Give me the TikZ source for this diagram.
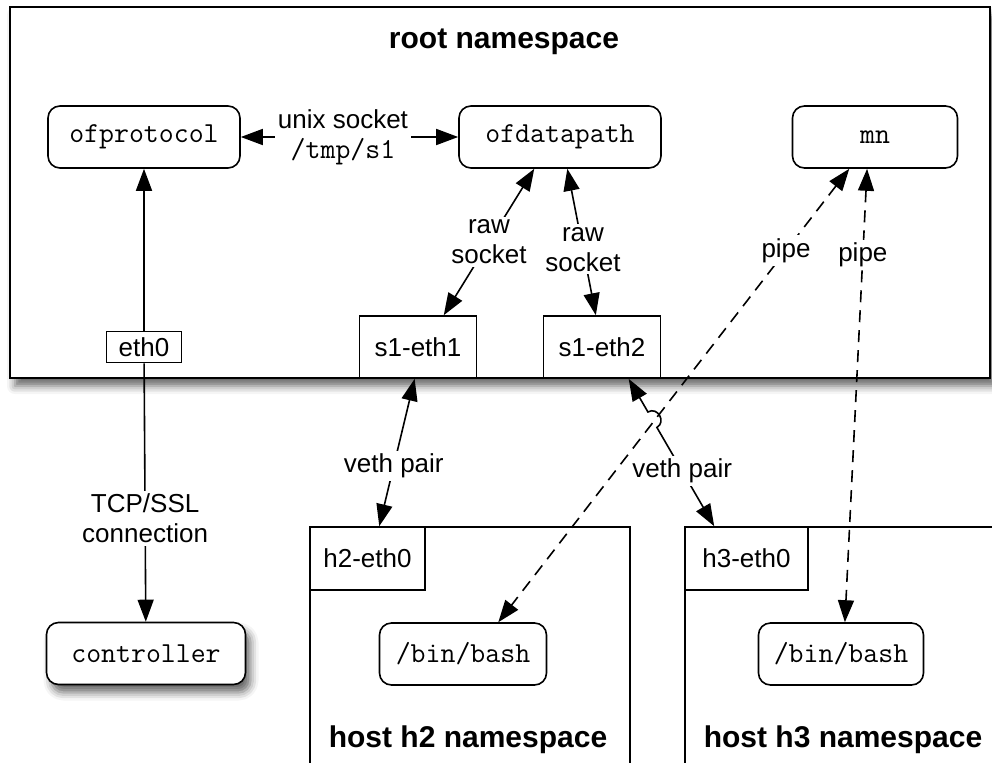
\documentclass[tikz,border=0pt]{standalone}
\usepackage{fontspec}
\setmainfont{Liberation Sans}
\usepackage{tikz}
\usetikzlibrary{arrows.meta, positioning, calc, shadows.blur}

\begin{document}
\begin{tikzpicture}[x=0.5pt, y=-0.5pt, on grid,
    font=\fontsize{13}{15}\selectfont,
    >={Triangle[length=11pt, width=8pt]},
    proc/.style={rectangle, rounded corners=6pt, draw, line width=0.8pt, fill=white, inner sep=3pt, font=\fontsize{14.5}{15}\selectfont\ttfamily, minimum height=31pt},
    port/.style={rectangle, draw, line width=0.8pt, fill=white, inner sep=2pt, minimum width=58.5pt, minimum height=31pt},
    nsbox/.style={rectangle, draw, line width=1pt, fill=white},
    nstitle/.style={font=\fontsize{15}{18}\selectfont\bfseries},
    lbl/.style={fill=white, align=center, inner sep=1.5pt},
    link/.style={line width=0.8pt, <->},
    pipe/.style={link, dash pattern=on 6pt off 4pt},
    shade/.style={blur shadow={shadow xshift=2.5pt, shadow yshift=-4pt, shadow blur radius=4pt, shadow opacity=60}}]

    \useasboundingbox (0,0) rectangle (992,762);

    % namespaces
    \node[nsbox, shade, minimum width=490pt, minimum height=185.5pt] (root) at (500,192.5) {};
    \node[nstitle] (roottitle) at (504,42) {root namespace};

    \node[nsbox, minimum width=160pt, minimum height=121.5pt] (h2ns) at (470,648.5) {};
    \node[nstitle] (h2title) at (468,740) {host h2 namespace};

    \node[nsbox, minimum width=157.5pt, minimum height=121.5pt] (h3ns) at (842.5,648.5) {};
    \node[nstitle] (h3title) at (843,740) {host h3 namespace};

    % processes
    \node[proc, minimum width=96pt] (ofproto) at (144,137) {ofprotocol};
    \node[proc, minimum width=101pt, right=208pt of ofproto] (ofdp) {ofdatapath};
    \node[proc, minimum width=82.5pt, right=157.5pt of ofdp] (mn) {mn};

    \node[proc, shade, minimum width=99.5pt] (ctrl) at (146,653.5) {controller};
    \node[proc, minimum width=83.5pt] (bash2) at (463,654) {/bin/bash};
    \node[proc, minimum width=82.5pt] (bash3) at (841,654) {/bin/bash};

    % interfaces
    \node[port, minimum width=37.5pt, minimum height=15.5pt] (eth0) at (144,347) {eth0};
    \node[port, right=137pt of eth0] (s1eth1) {s1-eth1};
    \node[port, right=92pt of s1eth1] (s1eth2) {s1-eth2};

    \node[port, minimum width=57.5pt, minimum height=31.5pt] (h2eth0) at (367.5,558.5) {h2-eth0};
    \node[port, minimum width=61.5pt, minimum height=31.5pt] (h3eth0) at (746.5,558.5) {h3-eth0};

    % links
    \path[link]
    (ofproto) edge node[lbl, pos=0.47] {unix socket\\{\fontsize{14.5}{15}\selectfont\ttfamily /tmp/s1}} (ofdp)
    (ofdp.-129) edge node[lbl] {raw\\socket} (s1eth1.51)
    (ofdp.-77) edge node[lbl, pos=0.55] {raw\\socket} (s1eth2.101)
    (s1eth1.-96) edge node[lbl, pos=0.59] {veth pair} (h2eth0.70);

    \path[line width=0.8pt]
    (eth0) edge[->] (ofproto)
    (eth0) edge[->] node[lbl, pos=0.6] {TCP/SSL\\connection} (ctrl);

    \path[pipe]
    (mn.-129) edge node[lbl, pos=0.18] {pipe} (bash2.42)
    (mn.-104) edge node[lbl, pos=0.19] {pipe} (bash3.83);

    % veth pair with a hop over the pipe
    \coordinate (hopA) at ($(s1eth2.-50)!0.225!(h3eth0.135)$);
    \coordinate (hopB) at ($(s1eth2.-50)!0.33!(h3eth0.135)$);
    \draw[link] (s1eth2.-50) -- (hopA) to[bend left=90, looseness=1.6] (hopB)
    -- node[lbl, pos=0.44] {veth pair} (h3eth0.135);

\end{tikzpicture}
\end{document}
